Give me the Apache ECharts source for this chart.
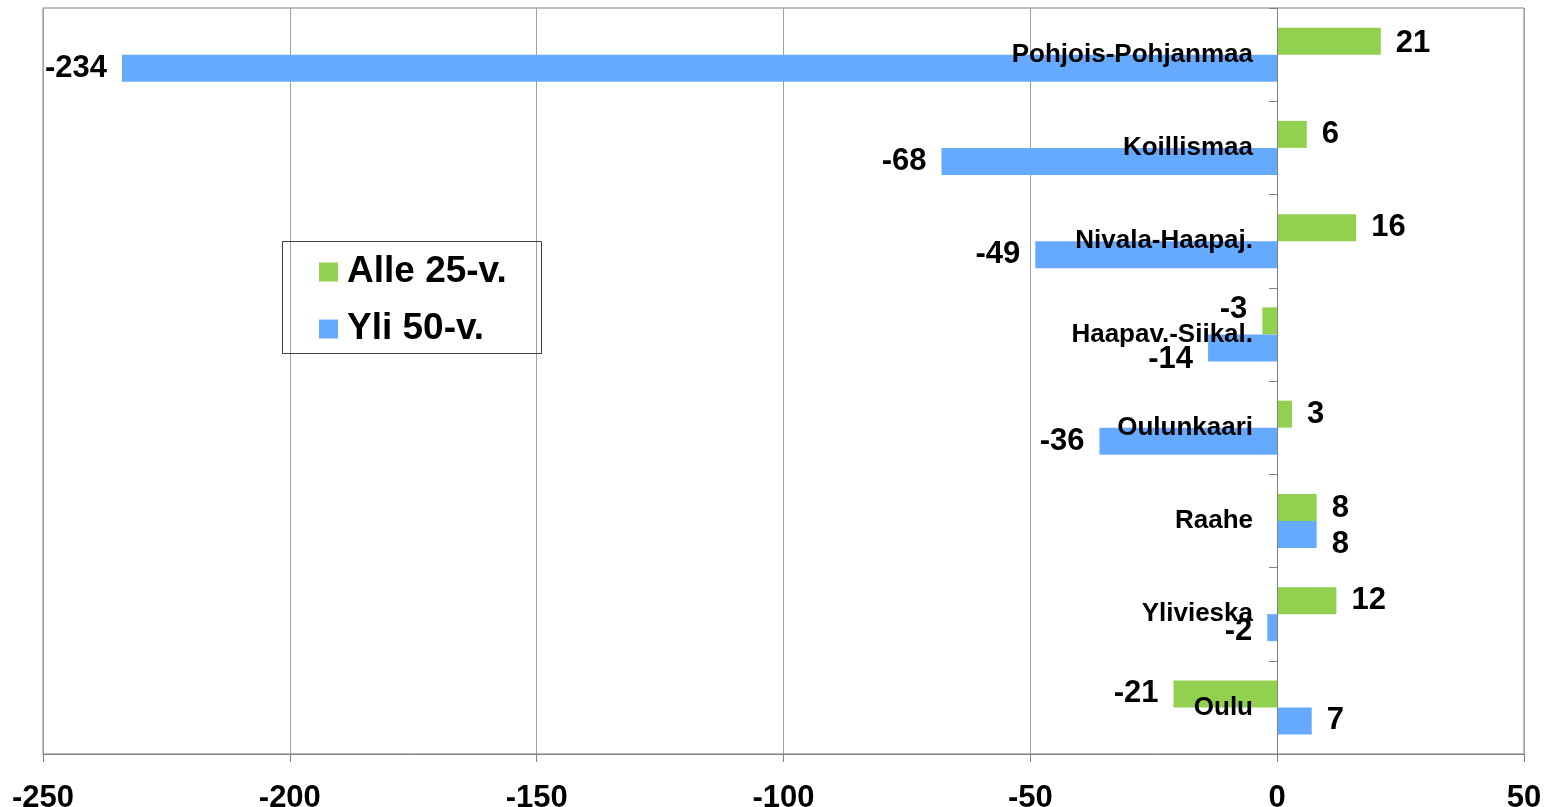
<!DOCTYPE html>
<html>
<head>
<meta charset="utf-8">
<script src="https://cdn.jsdelivr.net/npm/echarts@6/dist/echarts.min.js"></script>
<style>
  html, body { margin: 0; padding: 0; background: #fff; }
  #chart { width: 1552px; height: 807px; }
</style>
</head>
<body>
<div id="chart"></div>
<script>
const regions = ['Pohjois-Pohjanmaa', 'Koillismaa', 'Nivala-Haapaj.', 'Haapav.-Siikal.', 'Oulunkaari', 'Raahe', 'Ylivieska', 'Oulu']
const under25 = [21, 6, 16, -3, 3, 8, 12, -21]
const over50 = [-234, -68, -49, -14, -36, 8, -2, 7]
const seriesNames = ['Alle 25-v.', 'Yli 50-v.']
const colors = ['#92D050', '#66AAFF']

const font = 'Arial, "Liberation Sans", sans-serif'

// small vertical nudges so crowded labels don't sit on each other (like the original)
const nudges = [
  { 0: 2, 3: -11, 5: 1 },
  { 3: 12, 5: 10, 6: 4 },
]

const toBars = (vals, s) => vals.map((v, i) => ({
  value: v,
  label: {
    position: v < 0 ? 'left' : 'right',
    offset: [0, nudges[s][i] || 0],
  },
}))

const chart = echarts.init(document.getElementById('chart'))

const barSeries = (s, vals) => ({
  name: seriesNames[s],
  type: 'bar',
  data: toBars(vals, s),
  barWidth: 27,
  barGap: '0%',
  itemStyle: { color: colors[s] },
  label: {
    show: true,
    distance: 15,
    color: '#000',
    fontFamily: font,
    fontWeight: 'bold',
    fontSize: 31,
  },
})

chart.setOption({
  animation: false,
  grid: {
    left: 43,
    right: 28,
    top: 8,
    bottom: 53,
    containLabel: false,
    outerBoundsMode: 'none',
    show: true,
    borderColor: '#808080',
    borderWidth: 1,
  },
  legend: {
    orient: 'vertical',
    left: 319,
    top: 252,
    padding: 0,
    itemWidth: 19,
    itemHeight: 19,
    itemGap: 17,
    icon: 'rect',
    data: seriesNames,
    textStyle: {
      color: '#000',
      fontFamily: font,
      fontWeight: 'bold',
      fontSize: 37,
      lineHeight: 40,
      padding: [0, 0, 0, 4],
    },
  },
  graphic: [{
    type: 'rect',
    shape: { x: 282.5, y: 241.5, width: 259, height: 112 },
    style: { fill: 'none', stroke: '#404040', lineWidth: 1 },
    z: 100,
  }],
  xAxis: {
    type: 'value',
    min: -250,
    max: 50,
    interval: 50,
    axisLine: { show: true, lineStyle: { color: '#808080' } },
    axisTick: { show: true, length: 8, lineStyle: { color: '#808080' } },
    splitLine: { show: true, lineStyle: { color: '#a0a0a0' } },
    axisLabel: {
      margin: 29,
      color: '#000',
      fontFamily: font,
      fontWeight: 'bold',
      fontSize: 31,
    },
  },
  yAxis: {
    type: 'category',
    inverse: true,
    data: regions,
    position: 'left',
    // the category axis sits on x = 0 (250 units * 1481px / 300 units from the left edge)
    offset: -1234,
    z: 5,
    axisLine: { show: true, onZero: false, lineStyle: { color: '#808080' } },
    axisTick: { show: true, length: 8, lineStyle: { color: '#808080' } },
    splitLine: { show: false },
    axisLabel: {
      margin: 24,
      padding: [4, 0, 0, 0],
      color: '#000',
      fontFamily: font,
      fontWeight: 'bold',
      fontSize: 26,
    },
  },
  series: [
    barSeries(0, under25),
    barSeries(1, over50),
  ],
})
</script>
</body>
</html>
